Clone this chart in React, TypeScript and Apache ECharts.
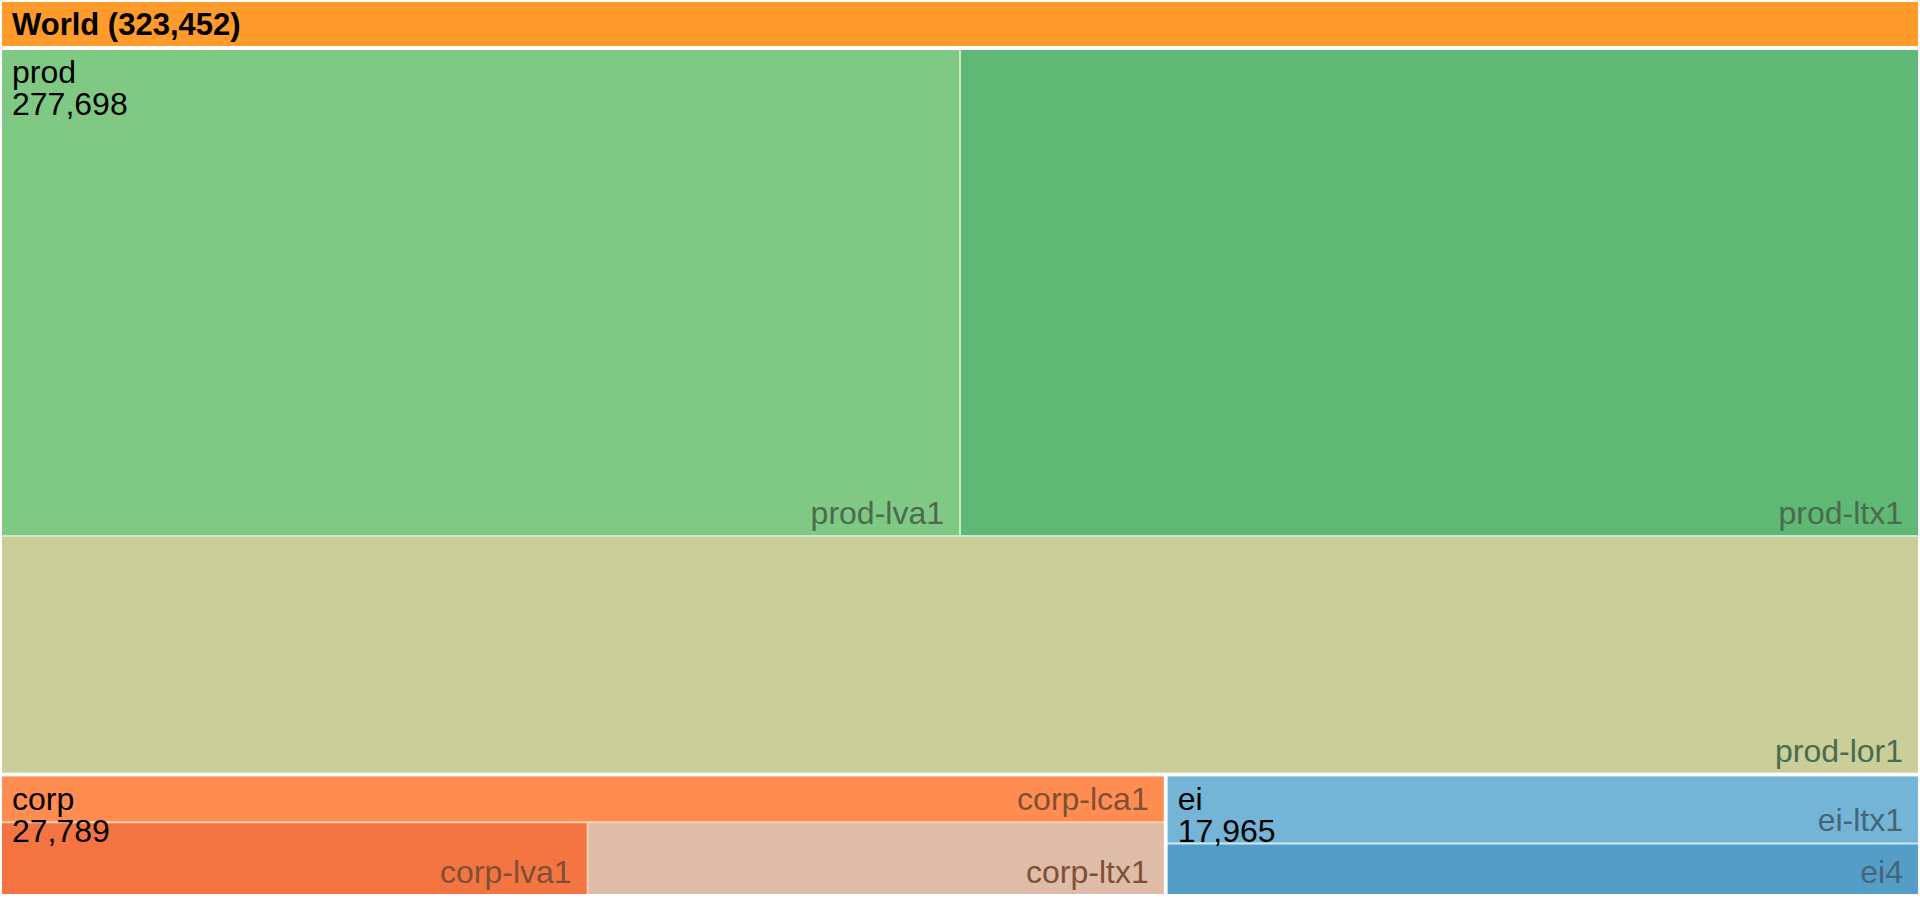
import React, { useEffect, useRef } from "react";
import * as echarts from "echarts";

// ---- data ----
const rootName = "World";
const groupNames = ["prod", "corp", "ei"];
const groupValues = [277698, 27789, 17965];
const prodLeafNames = ["prod-lva1", "prod-ltx1", "prod-lor1"];
const prodLeafValues = [93400, 93400, 90898];
const corpLeafNames = ["corp-lca1", "corp-lva1", "corp-ltx1"];
const corpLeafValues = [10780, 8575, 8434];
const eiLeafNames = ["ei-ltx1", "ei4"];
const eiLeafValues = [10220, 7745];

const leafNames = [prodLeafNames, corpLeafNames, eiLeafNames];
const leafValues = [prodLeafValues, corpLeafValues, eiLeafValues];

// ---- row arrangement of the tiling (how many tiles per row) ----
const rootRows = [1, 2];
const groupRows = [[2, 1], [1, 2], [1, 1]];

// ---- styles ----
const headerColor = "#ff9a2c";
const leafColors = [
  ["#80c985", "#5fb873", "#cacf9a"],
  ["#ff8d52", "#f47442", "#dfbca8"],
  ["#73b4d7", "#539dc6"],
];
const groupSeparator = ["#c9ebcb", "#ffcfb3", "#d2e8f3"];
const leafLabelColor = ["#4b6b4e", "#7e5035", "#466677"];
const FONT = '"Liberation Sans", Arial, Helvetica, sans-serif';

type R = { x: number; y: number; w: number; h: number };
const sum = (a: number[]) => a.reduce((s, v) => s + v, 0);

function rowsLayout(values: number[], rowCounts: number[], r: R, gap: number): R[] {
  const total = sum(values);
  const out: R[] = [];
  let idx = 0;
  let y = r.y;
  rowCounts.forEach((cnt, ri) => {
    const vals = values.slice(idx, idx + cnt);
    const rs = sum(vals);
    const h = (r.h * rs) / total;
    let x = r.x;
    vals.forEach((v, ci) => {
      const w = (r.w * v) / rs;
      const x0 = ci === 0 ? x : x + gap / 2;
      const x1 = ci === cnt - 1 ? x + w : x + w - gap / 2;
      const y0 = ri === 0 ? y : y + gap / 2;
      const y1 = ri === rowCounts.length - 1 ? y + h : y + h - gap / 2;
      out.push({ x: x0, y: y0, w: x1 - x0, h: y1 - y0 });
      x += w;
    });
    y += h;
    idx += cnt;
  });
  return out;
}

function computeLayout(W: number, H: number) {
  const outer: R = { x: 2, y: 2, w: W - 4, h: H - 8 };
  const headerH = 44;
  const header: R = { x: outer.x, y: outer.y, w: outer.w, h: headerH };
  const content: R = { x: outer.x, y: outer.y + headerH + 4, w: outer.w, h: outer.h - headerH - 4 };
  const groups = rowsLayout(groupValues, rootRows, content, 4);
  const leaves = groups.map((g, gi) => rowsLayout(leafValues[gi], groupRows[gi], g, 2));
  return { header, groups, leaves };
}

type Node = { kind: "header" | "groupBg" | "leaf" | "groupLabel"; g: number; l: number; name: string };
const nodes: Node[] = [];
nodes.push({ kind: "header", g: -1, l: -1, name: rootName });
groupNames.forEach((n, gi) => nodes.push({ kind: "groupBg", g: gi, l: -1, name: n }));
groupNames.forEach((n, gi) =>
  leafNames[gi].forEach((ln, li) => nodes.push({ kind: "leaf", g: gi, l: li, name: ln }))
);
groupNames.forEach((n, gi) => nodes.push({ kind: "groupLabel", g: gi, l: -1, name: n }));

const fmt = (v: number) => v.toLocaleString("en-US");

export default function App() {
  const ref = useRef<HTMLDivElement>(null);
  useEffect(() => {
    if (!ref.current) return;
    const chart = echarts.init(ref.current, undefined, { renderer: "svg" });
    chart.setOption({
      animation: false,
      series: [
        {
          type: "custom",
          coordinateSystem: "none",
          silent: true,
          data: nodes.map((n, i) => ({ name: n.name, value: [i] })),
          renderItem: (params: any, api: any) => {
            const L = computeLayout(api.getWidth(), api.getHeight());
            const n = nodes[params.dataIndex];
            if (n.kind === "header") {
              const r = L.header;
              return {
                type: "group",
                children: [
                  { type: "rect", shape: { x: r.x, y: r.y, width: r.w, height: r.h }, style: { fill: headerColor } },
                  {
                    type: "text",
                    style: {
                      text: `${rootName} (${fmt(sum(groupValues))})`,
                      x: r.x + 10,
                      y: r.y + r.h / 2,
                      fill: "#000",
                      font: `bold 31px ${FONT}`,
                      align: "left",
                      verticalAlign: "middle",
                    },
                  },
                ],
              };
            }
            if (n.kind === "groupBg") {
              const r = L.groups[n.g];
              return { type: "rect", shape: { x: r.x, y: r.y, width: r.w, height: r.h }, style: { fill: groupSeparator[n.g] } };
            }
            if (n.kind === "leaf") {
              const r = L.leaves[n.g][n.l];
              return {
                type: "group",
                children: [
                  { type: "rect", shape: { x: r.x, y: r.y, width: r.w, height: r.h }, style: { fill: leafColors[n.g][n.l] } },
                  {
                    type: "text",
                    style: {
                      text: n.name,
                      x: r.x + r.w - 15,
                      y: r.y + r.h - 22,
                      fill: leafLabelColor[n.g],
                      font: `32px ${FONT}`,
                      align: "right",
                      verticalAlign: "middle",
                    },
                  },
                ],
              };
            }
            const r = L.groups[n.g];
            return {
              type: "text",
              style: {
                text: `${n.name}\n${fmt(groupValues[n.g])}`,
                x: r.x + 10,
                y: r.y + 6,
                fill: "#000",
                font: `32px ${FONT}`,
                lineHeight: 32,
                align: "left",
                verticalAlign: "top",
              },
            };
          },
        },
      ],
    });
    return () => chart.dispose();
  }, []);
  return (
    <div
      ref={ref}
      style={{ position: "fixed", left: 0, top: 0, width: 1920, height: 900, background: "#fff" }}
    />
  );
}
